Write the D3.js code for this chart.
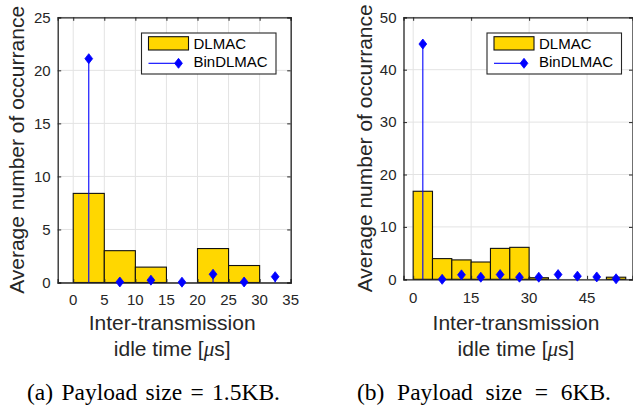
<!DOCTYPE html>
<html>
<head>
<meta charset="utf-8">
<script src="https://cdn.jsdelivr.net/npm/d3@7"></script>
<style>
  html, body { margin: 0; padding: 0; background: #fff; }
  svg { display: block; }
</style>
</head>
<body>
<svg id="chart" width="633" height="408"></svg>
<script>
// ---------------- DATA ----------------
const seriesNames = ["DLMAC", "BinDLMAC"];

// (a) Payload size = 1.5KB
const binEdgesA = [0, 5, 10, 15, 20, 25, 30, 35];
const dlmacA = [8.4, 3.0, 1.45, 0, 3.2, 1.6, 0];
const binCentersA = [2.5, 7.5, 12.5, 17.5, 22.5, 27.5, 32.5];
const binDlmacA = [21.1, 0.05, 0.22, 0.03, 0.78, 0.05, 0.55];
const xTicksA = [0, 5, 10, 15, 20, 25, 30, 35];
const yTicksA = [0, 5, 10, 15, 20, 25];

// (b) Payload size = 6KB
const binEdgesB = [0, 5, 10, 15, 20, 25, 30, 35, 40, 45, 50, 55];
const dlmacB = [16.8, 3.95, 3.7, 3.3, 5.9, 6.1, 0.3, 0, 0, 0, 0.4];
const binCentersB = [2.5, 7.5, 12.5, 17.5, 22.5, 27.5, 32.5, 37.5, 42.5, 47.5, 52.5];
const binDlmacB = [44.9, 0.0, 0.85, 0.4, 0.9, 0.4, 0.4, 0.9, 0.6, 0.45, 0.1];
const xTicksB = [0, 15, 30, 45];
const yTicksB = [0, 10, 20, 30, 40, 50];

const yLabel = "Average number of occurrance";
const xLabelLine1 = "Inter-transmission";
const xLabelLine2 = ["idle time [", "\u03BC", "s]"];
const captions = ["(a) Payload size = 1.5KB.", "(b) Payload size = 6KB."];

// ---------------- STYLE / LAYOUT ----------------
const AXIS = "#262626";
const GRID = "#e3e3e3";
const GOLD = "#FFD700";
const BLUE = "#0000FF";
const SANS = "'Liberation Sans', Arial, Helvetica, sans-serif";
const SERIF = "'Liberation Serif', 'Times New Roman', serif";

const panels = [
  {
    edges: binEdgesA, bars: dlmacA, centers: binCentersA, stems: binDlmacA,
    xTicks: xTicksA, yTicks: yTicksA,
    xDomain: [-2.5, 35], yDomain: [0, 25],
    left: 57.7, right: 290.7, top: 17.3, bottom: 282.5,
    yLabelX: 24, xTickBase: 305, xLab1: 330, xLab2: 356,
    legend: { x: 141.5, y: 33, w: 134.5, h: 41 },
    caption: captions[0], capLeft: 27, capRight: 280, capBase: 400
  },
  {
    edges: binEdgesB, bars: dlmacB, centers: binCentersB, stems: binDlmacB,
    xTicks: xTicksB, yTicks: yTicksB,
    xDomain: [-2.5, 56.75], yDomain: [0, 50],
    left: 403.5, right: 632.5, top: 17.3, bottom: 279.3,
    yLabelX: 371.5, xTickBase: 302.5, xLab1: 329.5, xLab2: 355.5,
    legend: { x: 487, y: 33, w: 134.5, h: 41 },
    caption: captions[1], capLeft: 357, capRight: 611, capBase: 400
  }
];

const svg = d3.select("#chart");
const diamond = "M0,-5L3.9,0L0,5L-3.9,0Z";

panels.forEach(p => {
  const x = d3.scaleLinear().domain(p.xDomain).range([p.left, p.right]);
  const y = d3.scaleLinear().domain(p.yDomain).range([p.bottom, p.top]);
  const g = svg.append("g");

  // grid
  g.append("g").selectAll("line.gx").data(p.xTicks).join("line")
    .attr("x1", d => x(d)).attr("x2", d => x(d))
    .attr("y1", p.top).attr("y2", p.bottom)
    .attr("stroke", GRID).attr("stroke-width", 1);
  g.append("g").selectAll("line.gy").data(p.yTicks).join("line")
    .attr("x1", p.left).attr("x2", p.right)
    .attr("y1", d => y(d)).attr("y2", d => y(d))
    .attr("stroke", GRID).attr("stroke-width", 1);

  // bars
  g.append("g").selectAll("rect").data(p.bars).join("rect")
    .attr("x", (d, i) => x(p.edges[i]))
    .attr("width", (d, i) => x(p.edges[i + 1]) - x(p.edges[i]))
    .attr("y", d => y(d))
    .attr("height", d => y(0) - y(d))
    .attr("fill", GOLD).attr("stroke", "#111").attr("stroke-width", 1.1);

  // axes with D3 axis generators (inward ticks, box)
  const axB = d3.axisBottom(x).tickValues(p.xTicks).tickSize(-3.5).tickPadding(0).tickFormat("");
  const axT = d3.axisTop(x).tickValues(p.xTicks).tickSize(-3.5).tickFormat("");
  const axL = d3.axisLeft(y).tickValues(p.yTicks).tickSize(-3.5).tickFormat("");
  const axR = d3.axisRight(y).tickValues(p.yTicks).tickSize(-3.5).tickFormat("");
  [[axB, `translate(0,${p.bottom})`], [axT, `translate(0,${p.top})`],
   [axL, `translate(${p.left},0)`], [axR, `translate(${p.right},0)`]].forEach(([ax, tr]) => {
    const a = g.append("g").attr("transform", tr).call(ax);
    a.select(".domain").attr("stroke", AXIS).attr("stroke-width", 1.3);
    a.selectAll(".tick line").attr("stroke", AXIS).attr("stroke-width", 1);
  });

  // stems
  g.append("g").selectAll("line.stem").data(p.stems).join("line")
    .attr("x1", (d, i) => x(p.centers[i])).attr("x2", (d, i) => x(p.centers[i]))
    .attr("y1", y(0)).attr("y2", d => y(d))
    .attr("stroke", BLUE).attr("stroke-width", 1.1);
  g.append("g").selectAll("path.mk").data(p.stems).join("path")
    .attr("d", diamond)
    .attr("transform", (d, i) => `translate(${x(p.centers[i])},${y(d)})`)
    .attr("fill", BLUE).attr("stroke", BLUE).attr("stroke-width", 0.8);

  // tick labels
  g.append("g").selectAll("text").data(p.xTicks).join("text")
    .attr("x", d => x(d)).attr("y", p.xTickBase)
    .attr("text-anchor", "middle")
    .attr("font-family", SANS).attr("font-size", 15).attr("fill", AXIS)
    .text(d => d);
  g.append("g").selectAll("text").data(p.yTicks).join("text")
    .attr("x", p.left - 7).attr("y", d => y(d) + 5.3)
    .attr("text-anchor", "end")
    .attr("font-family", SANS).attr("font-size", 15).attr("fill", AXIS)
    .text(d => d);

  // y label
  g.append("text")
    .attr("transform", `translate(${p.yLabelX},${(p.top + p.bottom) / 2}) rotate(-90)`)
    .attr("text-anchor", "middle")
    .attr("font-family", SANS).attr("font-size", 21).attr("fill", AXIS)
    .text(yLabel);

  // x label (two lines)
  const cx = (p.left + p.right) / 2 - 2;
  g.append("text").attr("x", cx).attr("y", p.xLab1)
    .attr("text-anchor", "middle")
    .attr("font-family", SANS).attr("font-size", 21).attr("fill", AXIS)
    .text(xLabelLine1);
  const t2 = g.append("text").attr("x", cx).attr("y", p.xLab2)
    .attr("text-anchor", "middle")
    .attr("font-family", SANS).attr("font-size", 21).attr("fill", AXIS);
  t2.append("tspan").text(xLabelLine2[0]);
  t2.append("tspan").attr("font-family", SERIF).attr("font-style", "italic").text(xLabelLine2[1]);
  t2.append("tspan").text(xLabelLine2[2]);

  // legend
  const L = p.legend;
  const lg = g.append("g");
  lg.append("rect").attr("x", L.x).attr("y", L.y).attr("width", L.w).attr("height", L.h)
    .attr("fill", "#fff").attr("stroke", AXIS).attr("stroke-width", 1.1);
  lg.append("rect").attr("x", L.x + 7).attr("y", L.y + 3.7).attr("width", 40).attr("height", 13.3)
    .attr("fill", GOLD).attr("stroke", "#111").attr("stroke-width", 1.1);
  lg.append("text").attr("x", L.x + 52).attr("y", L.y + 16)
    .attr("font-family", SANS).attr("font-size", 15).attr("fill", "#000")
    .text(seriesNames[0]);
  lg.append("line").attr("x1", L.x + 7).attr("x2", L.x + 37)
    .attr("y1", L.y + 30.3).attr("y2", L.y + 30.3)
    .attr("stroke", BLUE).attr("stroke-width", 1.1);
  lg.append("path").attr("d", diamond)
    .attr("transform", `translate(${L.x + 37},${L.y + 30.3})`)
    .attr("fill", BLUE).attr("stroke", BLUE).attr("stroke-width", 0.8);
  lg.append("text").attr("x", L.x + 52).attr("y", L.y + 33.7)
    .attr("font-family", SANS).attr("font-size", 15).attr("fill", "#000")
    .text(seriesNames[1]);

  // caption, spread to the measured width
  const cap = g.append("text").attr("x", p.capLeft).attr("y", p.capBase)
    .attr("font-family", SERIF).attr("font-size", 23.5).attr("fill", "#000")
    .text(p.caption);
  const natural = cap.node().getComputedTextLength();
  const spaces = (p.caption.match(/ /g) || []).length;
  const extra = (p.capRight - p.capLeft) - natural;
  if (spaces > 0) cap.attr("word-spacing", extra / spaces);
});
</script>
</body>
</html>
